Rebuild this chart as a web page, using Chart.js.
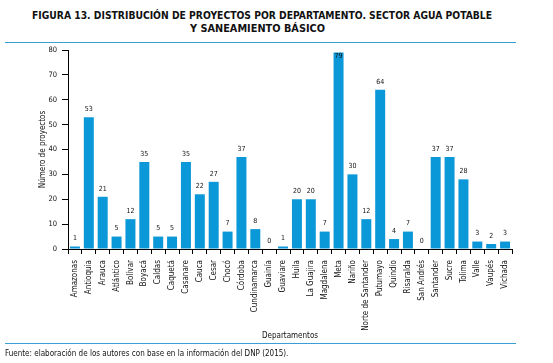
<!DOCTYPE html>
<html>
<head>
<meta charset="utf-8">
<script src="https://cdn.jsdelivr.net/npm/chart.js@4.4.1/dist/chart.umd.min.js"></script>
<style>
  html, body { margin: 0; padding: 0; background: #fff; }
  #wrap { position: relative; width: 553px; height: 363px; overflow: hidden; }
  #chart { position: absolute; left: 0; top: 0; }
  .tl { position: absolute; white-space: nowrap; transform-origin: 0 50%;
        font-family: "DejaVu Sans Condensed", "Liberation Sans", sans-serif;
        font-weight: bold; font-size: 11px; color: #111; line-height: 12px; }
  .rule { position: absolute; left: 5px; width: 511px; height: 1px; background: #3a9fd2; }
  .foot { position: absolute; left: 5px; top: 349px; font-family: "DejaVu Sans Condensed", "Liberation Sans", sans-serif;
          font-size: 8px; color: #111; white-space: nowrap; line-height: 10px; }
</style>
</head>
<body>
<div id="wrap">
  <span class="tl" id="t1" style="top:10px" data-x="32" data-w="460">FIGURA 13. DISTRIBUCIÓN DE PROYECTOS POR DEPARTAMENTO. SECTOR AGUA POTABLE</span>
  <span class="tl" id="t2" style="top:23px" data-x="190" data-w="135">Y SANEAMIENTO BÁSICO</span>
  <div class="rule" style="top:42px"></div>
  <canvas id="chart" width="553" height="363"></canvas>
  <div class="rule" style="top:343px"></div>
  <div class="foot">Fuente: elaboración de los autores con base en la información del DNP (2015).</div>
</div>
<script>
const departamentos = ["Amazonas","Antioquia","Arauca","Atlántico","Bolívar","Boyacá","Caldas","Caquetá","Casanare","Cauca","Cesar","Chocó","Córdoba","Cundinamarca","Guainía","Guaviare","Huila","La Guajira","Magdalena","Meta","Nariño","Norte de Santander","Putumayo","Quindío","Risaralda","San Andrés","Santander","Sucre","Tolima","Valle","Vaupés","Vichada"];
const proyectos = [1,53,21,5,12,35,5,5,35,22,27,7,37,8,0,1,20,20,7,79,30,12,64,4,7,0,37,37,28,3,2,3];
const yTicks = [0,10,20,30,40,50,60,70,80];

const FONT = "'DejaVu Sans Condensed', 'Liberation Sans', sans-serif";

document.querySelectorAll('.tl').forEach(el => {
  const w = el.getBoundingClientRect().width;
  const target = parseFloat(el.dataset.w);
  el.style.left = el.dataset.x + 'px';
  el.style.transform = 'scaleX(' + (target / w) + ')';
});

const valueLabels = {
  id: 'valueLabels',
  afterDatasetsDraw(chart) {
    const ctx = chart.ctx;
    const meta = chart.getDatasetMeta(0);
    ctx.save();
    ctx.font = "7px " + FONT;
    ctx.fillStyle = "#111";
    ctx.textAlign = "center";
    ctx.textBaseline = "middle";
    meta.data.forEach((bar, i) => {
      let y = bar.y - 8;
      if (y < chart.chartArea.top) y = bar.y + 4;
      ctx.fillText(String(proyectos[i]), bar.x, y);
    });
    ctx.restore();
  }
};

new Chart(document.getElementById('chart'), {
  type: 'bar',
  data: {
    labels: departamentos,
    datasets: [{
      data: proyectos,
      backgroundColor: '#0b98d8',
      borderWidth: 0,
      barPercentage: 0.72,
      categoryPercentage: 1.0
    }]
  },
  options: {
    responsive: false,
    animation: false,
    devicePixelRatio: 1,
    layout: { padding: { left: 38, right: 41, top: 50, bottom: 22 } },
    plugins: { legend: { display: false }, tooltip: { enabled: false } },
    scales: {
      x: {
        offset: true,
        afterFit(s) { s.height = 92; },
        grid: { offset: true, drawOnChartArea: false, drawTicks: true, tickLength: 5, color: '#000', tickColor: '#000' },
        border: { display: true, color: '#000', width: 1 },
        ticks: { autoSkip: false, maxRotation: 90, minRotation: 90, padding: 6, color: '#111', font: { family: FONT, size: 8 } },
        title: { display: true, text: 'Departamentos', color: '#111', padding: 0, font: { family: FONT, size: 8 } }
      },
      y: {
        min: 0, max: 80,
        afterFit(s) { s.width = 30; },
        afterBuildTicks(s) { s.ticks = yTicks.map(v => ({ value: v })); },
        grid: { drawOnChartArea: false, drawTicks: true, tickLength: 6, color: '#000', tickColor: '#000' },
        border: { display: true, color: '#000', width: 1 },
        ticks: { padding: 5, color: '#111', font: { family: FONT, size: 7.5 } },
        title: { display: true, text: 'Número de proyectos', color: '#111', padding: 0, font: { family: FONT, size: 8 } }
      }
    }
  },
  plugins: [valueLabels]
});
</script>
</body>
</html>
